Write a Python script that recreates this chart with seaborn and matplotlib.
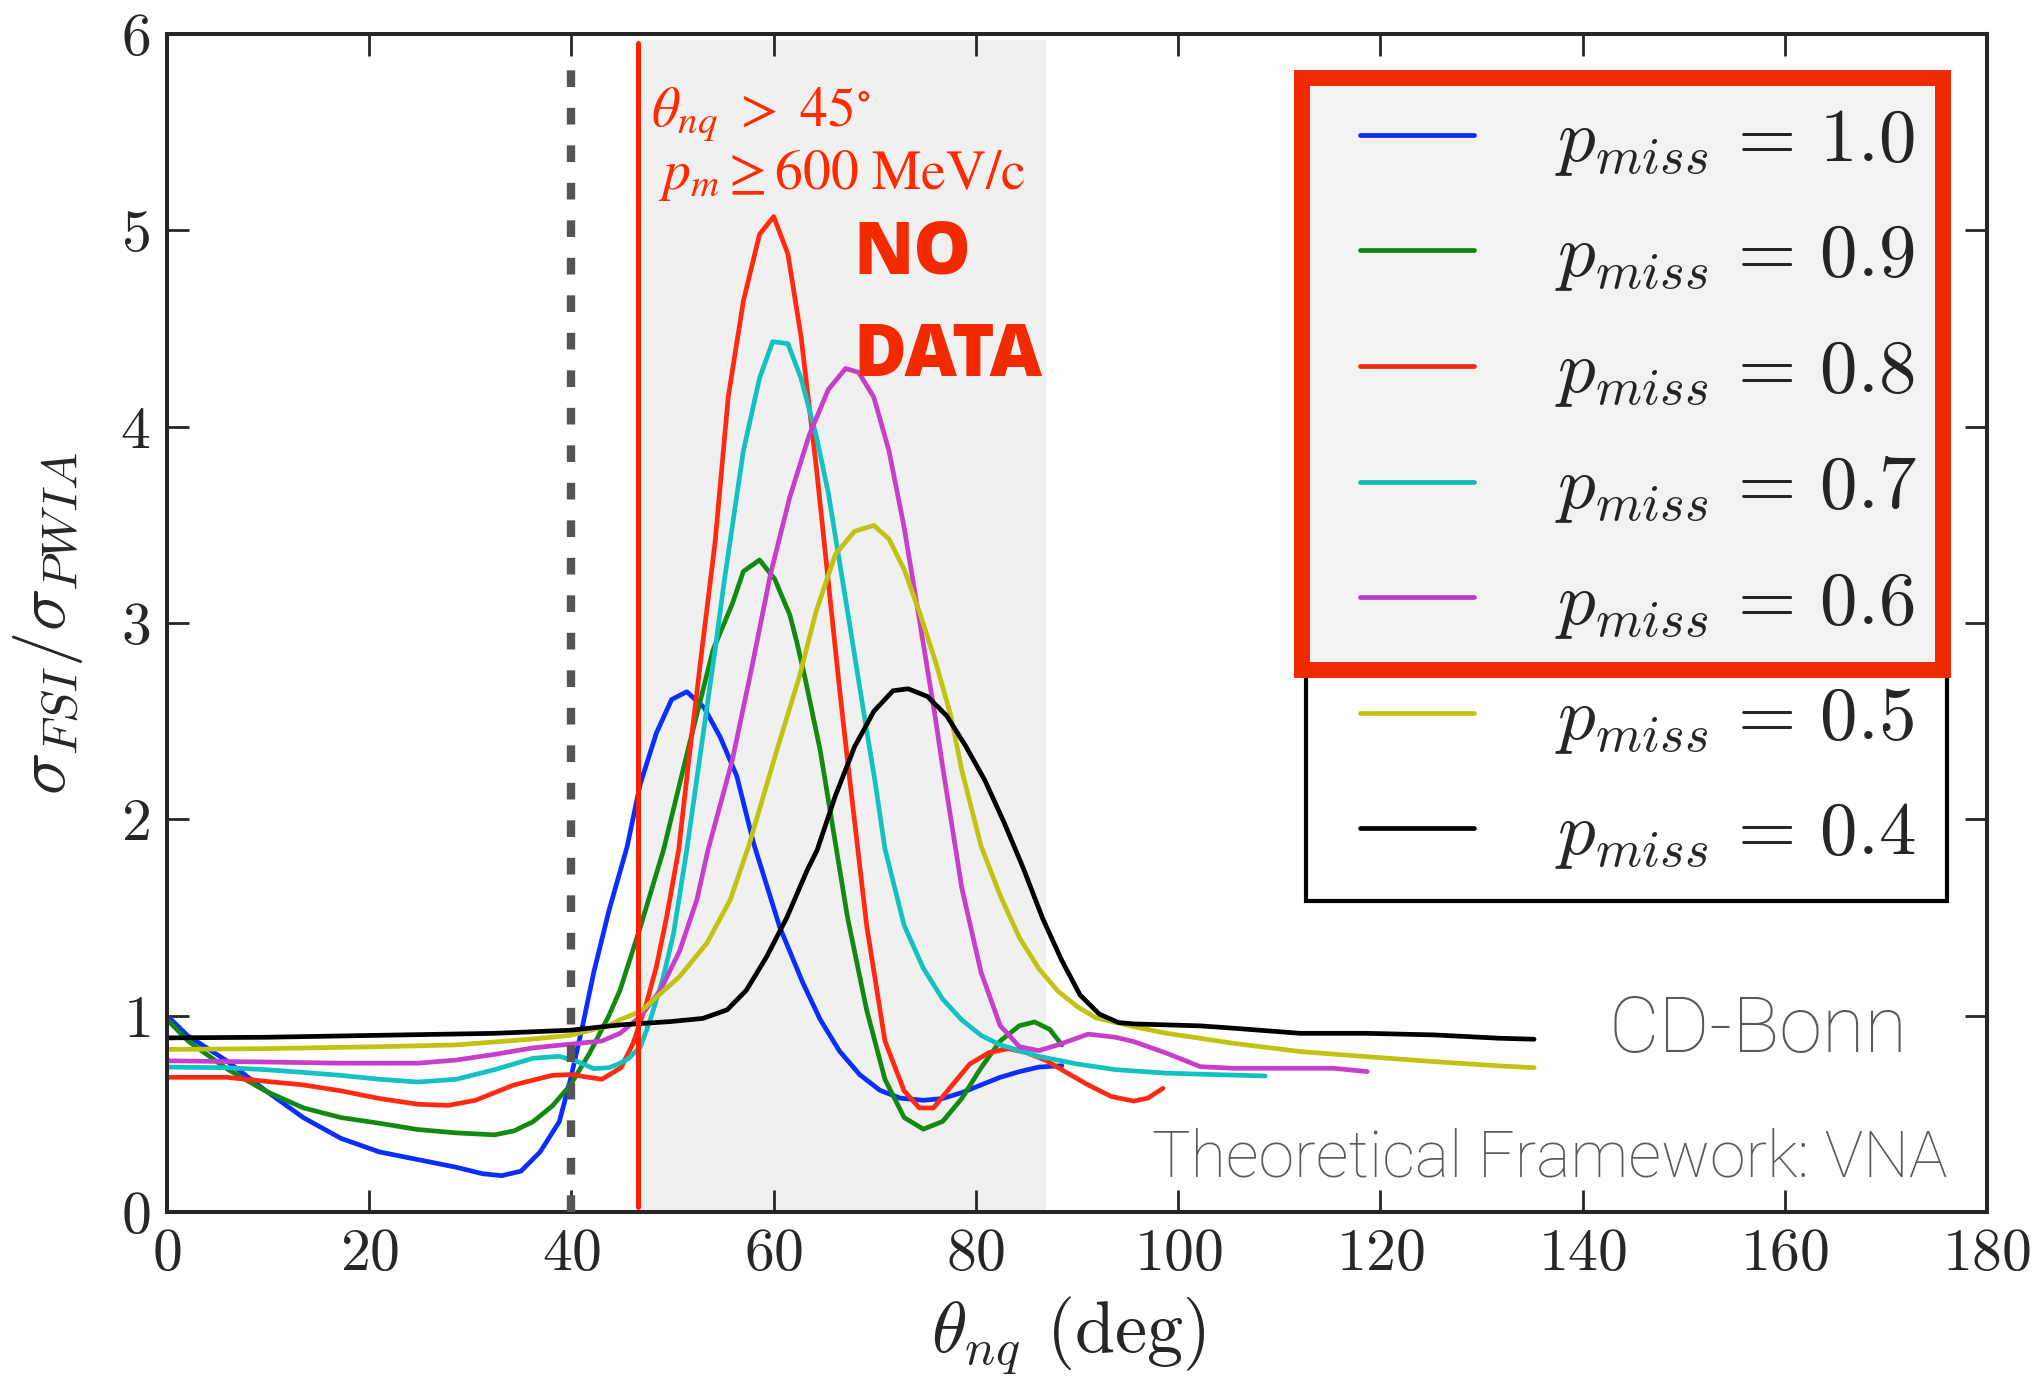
import matplotlib
matplotlib.use("Agg")
import matplotlib.pyplot as plt
import numpy as np
import pandas as pd
import seaborn as sns
from matplotlib.legend_handler import HandlerLine2D
from matplotlib.lines import Line2D
from matplotlib.patches import Rectangle

# ---- data (theta_nq in deg, sigma_FSI / sigma_PWIA) ----
pmiss_labels = ["1.0", "0.9", "0.8", "0.7", "0.6", "0.5", "0.4"]
colors = ["#0a2eff", "#128a12", "#ff2a10", "#12c2c2", "#c63ec9", "#c2c212", "#000000"]

theta_10 = [0.2, 2.0, 5.9, 9.7, 13.5, 17.2, 21.0, 24.8, 28.6, 31.2, 33.1, 35.0, 36.9, 38.8,
            39.9, 41.1, 42.2, 43.7, 45.5, 46.8, 48.4, 49.9, 51.4, 53.1, 54.7, 56.35, 58.0,
            60.6, 62.9, 64.6, 66.5, 68.5, 70.5, 72.5, 74.8, 76.7, 78.6, 80.5, 82.4, 84.3,
            86.2, 88.5]
ratio_10 = [0.99, 0.90, 0.77, 0.62, 0.48, 0.375, 0.306, 0.267, 0.228, 0.195, 0.185, 0.208,
            0.306, 0.461, 0.676, 0.949, 1.22, 1.534, 1.86, 2.18, 2.44, 2.61, 2.65, 2.57, 2.42,
            2.22, 1.88, 1.45, 1.165, 0.98, 0.82, 0.70, 0.62, 0.58, 0.569, 0.578, 0.608, 0.647,
            0.686, 0.715, 0.738, 0.745]

theta_09 = [0.2, 2.1, 5.9, 9.7, 13.5, 17.2, 21.0, 24.8, 28.6, 32.4, 34.3, 36.2, 38.1, 39.9,
            41.8, 43.7, 44.8, 46.8, 49.1, 51.5, 54.0, 55.9, 57.0, 58.6, 60.1, 61.6, 62.3,
            63.1, 64.6, 65.4, 67.3, 69.2, 71.0, 72.9, 74.8, 76.7, 78.6, 80.5, 82.4, 84.3,
            85.8, 87.3, 88.5]
ratio_09 = [0.97, 0.87, 0.73, 0.617, 0.53, 0.481, 0.452, 0.42, 0.403, 0.393, 0.413, 0.46,
            0.54, 0.647, 0.81, 1.0, 1.13, 1.45, 1.844, 2.35, 2.863, 3.097, 3.263, 3.321, 3.224,
            3.04, 2.9, 2.72, 2.35, 2.1, 1.5, 1.027, 0.676, 0.481, 0.422, 0.461, 0.578, 0.734,
            0.871, 0.949, 0.968, 0.93, 0.851]

theta_08 = [0.2, 5.9, 9.7, 13.5, 17.2, 21.0, 24.8, 27.8, 30.5, 34.3, 38.1, 39.9, 43.0, 44.9,
            46.1, 47.4, 48.4, 49.4, 50.6, 51.6, 52.9, 54.2, 55.5, 57.0, 58.6, 60.0, 61.4,
            62.7, 64.2, 65.4, 66.5, 67.3, 69.2, 71.0, 72.9, 74.4, 75.8, 77.5, 79.4, 81.3,
            83.2, 85.0, 86.9, 88.8, 91.1, 93.4, 95.6, 97.0, 98.5]
ratio_08 = [0.686, 0.686, 0.666, 0.647, 0.617, 0.578, 0.549, 0.543, 0.569, 0.647, 0.696, 0.70,
            0.676, 0.735, 0.86, 1.06, 1.25, 1.50, 1.844, 2.30, 2.863, 3.41, 4.15, 4.64, 4.98,
            5.07, 4.88, 4.46, 3.80, 3.21, 2.67, 2.30, 1.456, 0.871, 0.617, 0.53, 0.53, 0.637,
            0.754, 0.812, 0.832, 0.812, 0.773, 0.715, 0.647, 0.588, 0.565, 0.58, 0.63]

theta_07 = [0.2, 5.9, 9.7, 13.5, 17.2, 21.0, 24.8, 28.6, 32.4, 36.2, 38.8, 40.7, 42.2, 43.7,
            44.5, 45.6, 46.8, 47.6, 48.1, 49.1, 50.1, 51.4, 54.2, 55.1, 57.0, 58.6, 59.9,
            61.4, 62.7, 64.2, 65.4, 67.3, 69.2, 70.0, 71.0, 72.9, 74.8, 76.7, 78.6, 80.5,
            82.4, 86.2, 90.0, 93.8, 98.9, 103.5, 108.6]
ratio_07 = [0.738, 0.735, 0.725, 0.711, 0.696, 0.676, 0.662, 0.676, 0.725, 0.783, 0.793,
            0.764, 0.73, 0.735, 0.75, 0.78, 0.84, 0.95, 1.03, 1.20, 1.42, 1.844, 2.863, 3.21,
            3.877, 4.247, 4.433, 4.423, 4.247, 3.955, 3.663, 3.06, 2.45, 2.2, 1.85, 1.46,
            1.241, 1.085, 0.978, 0.90, 0.851, 0.793, 0.754, 0.725, 0.707, 0.70, 0.693]

theta_06 = [0.2, 9.7, 17.2, 24.8, 28.6, 32.4, 36.2, 39.9, 43.0, 44.8, 46.8, 48.8, 50.7, 52.4,
            53.5, 55.9, 57.8, 59.7, 61.6, 63.5, 65.4, 67.1, 68.4, 69.9, 71.4, 72.9, 74.4,
            76.0, 76.7, 78.6, 80.5, 82.4, 84.3, 86.2, 88.1, 91.1, 93.8, 95.6, 98.9, 102.2,
            105.5, 110.4, 115.4, 118.7]
ratio_06 = [0.77, 0.764, 0.758, 0.758, 0.774, 0.803, 0.836, 0.855, 0.871, 0.91, 0.995, 1.13,
            1.33, 1.59, 1.844, 2.30, 2.765, 3.253, 3.643, 3.955, 4.189, 4.296, 4.277, 4.15,
            3.877, 3.487, 3.019, 2.512, 2.27, 1.651, 1.222, 0.949, 0.842, 0.822, 0.851, 0.906,
            0.89, 0.868, 0.808, 0.74, 0.732, 0.732, 0.732, 0.715]

theta_05 = [0.2, 9.7, 21.0, 28.6, 36.2, 39.9, 43.7, 44.8, 46.8, 48.1, 50.7, 53.4, 55.7, 57.5,
            60.3, 62.5, 64.2, 66.1, 68.0, 69.9, 71.4, 72.9, 74.4, 76.0, 77.5, 78.6, 80.5,
            82.4, 84.3, 86.2, 88.1, 90.0, 91.9, 95.6, 98.9, 105.5, 112.1, 118.7, 125.3,
            131.8, 135.2]
ratio_05 = [0.828, 0.832, 0.842, 0.851, 0.881, 0.90, 0.949, 0.98, 1.02, 1.08, 1.20, 1.37,
            1.59, 1.86, 2.35, 2.72, 3.06, 3.35, 3.467, 3.497, 3.428, 3.273, 3.058, 2.804,
            2.531, 2.25, 1.865, 1.612, 1.397, 1.241, 1.125, 1.047, 0.988, 0.944, 0.91, 0.859,
            0.817, 0.791, 0.766, 0.744, 0.735]

theta_04 = [0.2, 9.7, 21.0, 32.4, 39.9, 44.8, 49.8, 53.0, 55.4, 57.3, 59.3, 61.3, 63.3, 64.3,
            66.1, 68.0, 69.9, 71.8, 73.3, 75.2, 77.1, 79.0, 80.9, 82.8, 84.7, 86.6, 88.5,
            90.3, 92.2, 94.1, 95.6, 98.9, 102.2, 105.5, 112.1, 118.7, 125.3, 131.8, 135.2]
ratio_04 = [0.887, 0.89, 0.90, 0.91, 0.926, 0.953, 0.97, 0.986, 1.03, 1.13, 1.30, 1.50, 1.74,
            1.844, 2.12, 2.37, 2.55, 2.655, 2.665, 2.626, 2.528, 2.372, 2.197, 1.982, 1.749,
            1.495, 1.28, 1.105, 1.008, 0.965, 0.958, 0.953, 0.948, 0.936, 0.91, 0.91, 0.902,
            0.885, 0.88]

thetas = [theta_10, theta_09, theta_08, theta_07, theta_06, theta_05, theta_04]
ratios = [ratio_10, ratio_09, ratio_08, ratio_07, ratio_06, ratio_05, ratio_04]

df = pd.concat(
    [pd.DataFrame({"theta": t, "ratio": r, "pmiss": lab})
     for t, r, lab in zip(thetas, ratios, pmiss_labels)],
    ignore_index=True,
)

# ---- style ----
sns.set_style("ticks")
plt.rcParams["font.family"] = ["cmr10"]
plt.rcParams["mathtext.fontset"] = "cm"
plt.rcParams["axes.formatter.use_mathtext"] = True
plt.rcParams["axes.linewidth"] = 2.9

fig = plt.figure(figsize=(20.42, 13.88), dpi=100)
ax = fig.add_axes([0.0818, 0.1268, 0.8913, 0.8487])

# shaded "no data" band and cut lines
ax.axvspan(46.6, 86.9, ymin=0, ymax=0.995, color="#f0f0f0", lw=0, zorder=0)
ax.axvline(40, ymin=0, ymax=0.986, color="#555555", lw=6, ls=(0, (2.0, 2.5)), zorder=3)
ax.axvline(46.6, ymin=0.004, ymax=0.992, color="#ff2200", lw=3.6, zorder=3)

palette = dict(zip(pmiss_labels, colors))
sns.lineplot(data=df, x="theta", y="ratio", hue="pmiss", palette=palette,
             hue_order=pmiss_labels, sort=False, estimator=None, lw=3.4,
             legend=False, ax=ax)

ax.set_xlim(0, 180)
ax.set_ylim(0, 6)
ax.set_xticks(np.arange(0, 181, 20))
ax.set_yticks(np.arange(0, 7, 1))
ax.tick_params(direction="in", length=16, width=2, top=True, right=True,
               labelsize=43, pad=12)

ax.set_xlabel(r"$\theta_{nq}$ (deg)", fontsize=52)
ax.xaxis.set_label_coords(0.495, -0.07)
ax.set_ylabel(r"$\sigma_{FSI}/\sigma_{PWIA}$", fontsize=51)
ax.yaxis.set_label_coords(-0.045, 0.5)

# legend
handles = [Line2D([0], [0], color=c, lw=3.4) for c in colors]
labels = [rf"$p_{{miss}}\,=\,{lab}$" for lab in pmiss_labels]
leg = ax.legend(handles, labels, loc="upper right", bbox_to_anchor=(0.978, 0.9626),
                borderaxespad=0, fontsize=54, handlelength=1.85, handletextpad=1.08,
                borderpad=0.4, labelspacing=0.61, fancybox=False, framealpha=1,
                edgecolor="black", facecolor="white",
                handler_map={Line2D: HandlerLine2D(xpad=0.33)})
leg.get_frame().set_linewidth(3)

# red highlight box over the first five entries
ax.add_patch(Rectangle((0.6236, 0.460), 0.3522, 0.5026, transform=ax.transAxes,
                       facecolor=(0, 0, 0, 0.05), edgecolor="#f02a00", lw=11.5,
                       zorder=10, clip_on=False))

# annotations
red = "#ff2a00"
ax.text(47.9, 5.53, r"$\theta_{nq}\ >\ 45^{\circ}$", color=red, fontsize=40,
        math_fontfamily="stix", va="baseline")
ax.text(48.6, 5.21, r"$p_m \geq 600\ \mathrm{MeV/c}$", color=red, fontsize=40,
        math_fontfamily="stix", va="baseline")
ax.text(67.9, 4.78, "NO", color="#f22a00", fontsize=52, fontfamily="Open Sans",
        fontweight="heavy", va="baseline")
ax.text(67.9, 4.26, "DATA", color="#f22a00", fontsize=52, fontfamily="Open Sans",
        fontweight="heavy", va="baseline")

grey = "#56595f"
ax.text(142.6, 0.815, "CD-Bonn", color=grey, fontsize=56, fontfamily="Roboto",
        fontweight="light", va="baseline")
ax.text(176.1, 0.183, "Theoretical Framework: VNA", color=grey, fontsize=46.5,
        fontfamily="Roboto", fontweight="light", ha="right", va="baseline")

fig.savefig("out.png", dpi=100)
